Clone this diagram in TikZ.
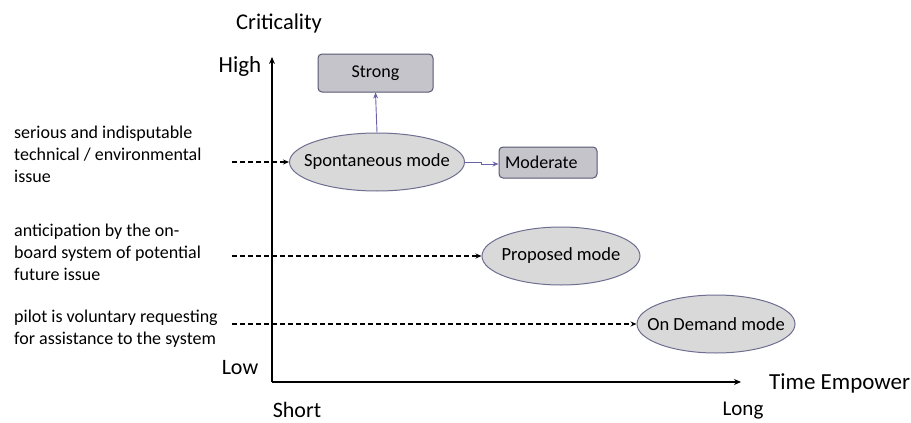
\documentclass[tikz,border=0pt]{standalone}
\usepackage{fontspec}
\setmainfont{Carlito}
\usetikzlibrary{shapes.geometric,arrows.meta}
\definecolor{ellfill}{HTML}{D9D9D9}
\definecolor{ellline}{HTML}{6E6E90}
\definecolor{boxfill}{HTML}{C4C4CA}
\definecolor{conn}{HTML}{6A62A8}
\newcommand{\zw}[1]{\makebox[0pt]{#1}}
\begin{document}
\begin{tikzpicture}[x=1pt,y=-1pt,
  modeell/.style={ellipse,draw=ellline,fill=ellfill,line width=1pt,inner sep=0pt,font=\fontsize{18.5}{20}\selectfont},
  levelbox/.style={rectangle,rounded corners=4pt,draw=ellline!80!black,fill=boxfill,line width=1pt,inner sep=0pt,font=\fontsize{18}{20}\selectfont},
  axis/.style={line width=1.8pt,-{Stealth[length=7pt,width=6pt]}},
  feed/.style={line width=1.4pt,dash pattern=on 5pt off 3pt,-{Stealth[length=6pt,width=5pt]}},
  link/.style={draw=conn,line width=0.9pt,-{Stealth[length=6pt,width=5pt]}},
  lbl/.style={font=\fontsize{18}{22}\selectfont,align=left,anchor=north west,inner sep=0pt},
  axlbl/.style={inner sep=0pt}]
\useasboundingbox (0,0) rectangle (911,423);
% axes
\coordinate (O) at (272,382);
\coordinate (ytop) at (272,57);
\coordinate (xend) at (741,382);
\draw[axis] (O) -- (ytop);
\draw[axis] (O) -- (xend);
% axis labels
\node[axlbl,font=\fontsize{22.5}{26}\selectfont] (crit) at (279,24) {Criticality};
\node[axlbl,font=\fontsize{23}{26}\selectfont] (high) at (240,66) {High};
\node[axlbl,font=\fontsize{22}{26}\selectfont] (low) at (240,368) {Low};
\node[axlbl,font=\fontsize{22}{26}\selectfont] (short) at (297,410) {Short};
\node[axlbl,font=\fontsize{21}{26}\selectfont] (long) at (743,411) {Long};
\node[axlbl,anchor=west,font=\fontsize{23}{26}\selectfont] (time) at (769,383) {Time Empower};
% left labels
\node[lbl] (t1) at (14,126) {serious and indisputable\\technical / environmental\\issue};
\node[lbl] (t2) at (14,224) {anticipation by the on-\\board system of potential\\future issue};
\node[lbl] (t3) at (14,310) {pilot is voluntary requesting\\for assistance to the system};
% modes
\node[modeell,minimum width=175pt,minimum height=58pt] (spont) at (377,162) {\zw{Spontaneous mode}};
\node[modeell,minimum width=158pt,minimum height=58pt] (prop) at (561,256) {\zw{Proposed mode}};
\node[modeell,minimum width=158pt,minimum height=58pt] (dem) at (716,324) {\zw{On Demand mode}};
% levels
\node[levelbox,minimum width=115pt,minimum height=38pt] (strong) at (375.5,73) {Strong};
\node[levelbox,minimum width=98pt,minimum height=31pt,text width=86pt,align=left] (mod) at (548,162.5) {Moderate};
% feed arrows
\coordinate (s1) at (232,162);
\coordinate (s2) at (232,256);
\coordinate (s3) at (232,324);
\draw[feed] (s1) -- (spont.west);
\draw[feed] (s2) -- (prop.west);
\draw[feed] (s3) -- (dem.west);
% links
\draw[link] (spont.north) -- (strong.south);
\draw[link] (spont.east) -- ++(16,0) -- ++(0,2) -- (mod.west |- 0,164);
\end{tikzpicture}
\end{document}
